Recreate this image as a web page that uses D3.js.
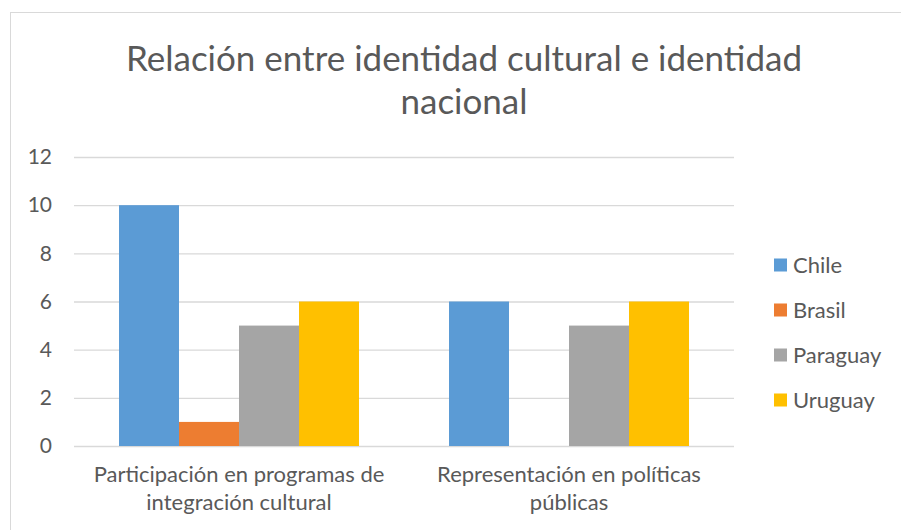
<!DOCTYPE html>
<html>
<head>
<meta charset="utf-8">
<script src="https://cdn.jsdelivr.net/npm/d3@7"></script>
<style>
  body { margin: 0; background: #fff; }
  text { font-family: Lato, "Open Sans", sans-serif; fill: #595959; }
</style>
</head>
<body>
<svg id="chart" width="901" height="530"></svg>
<script>
// data
const categories = ['Participación en programas de integración cultural', 'Representación en políticas públicas'];
const categoryLines = [['Participación en programas de', 'integración cultural'], ['Representación en políticas', 'públicas']];
const seriesNames = ['Chile', 'Brasil', 'Paraguay', 'Uruguay'];
const chile = [10, 6];
const brasil = [1, 0];
const paraguay = [5, 5];
const uruguay = [6, 6];
const yTicks = [0, 2, 4, 6, 8, 10, 12];
const titleLines = ['Relación entre identidad cultural e identidad', 'nacional'];

const colors = ['#5B9BD5', '#ED7D31', '#A5A5A5', '#FFC000'];
const seriesValues = [chile, brasil, paraguay, uruguay];

const svg = d3.select('#chart');
const margin = { top: 157, right: 167, bottom: 84, left: 74 };
const width = 901, height = 530;

// chart border
svg.append('rect')
    .attr('x', 10.5).attr('y', 12.5)
    .attr('width', 900).attr('height', 530)
    .attr('fill', 'none')
    .attr('stroke', '#d9d9d9');

// title
svg.append('g').selectAll('text')
    .data(titleLines)
    .join('text')
    .attr('x', 464)
    .attr('y', (d, i) => 71 + i * 43)
    .attr('text-anchor', 'middle')
    .style('font-size', '35px')
    .text(d => d);

const x0 = d3.scaleBand()
    .domain(categories)
    .range([margin.left, width - margin.right])
    .paddingInner(90 / 330)
    .paddingOuter(45 / 330);

const x1 = d3.scaleBand()
    .domain(seriesNames)
    .range([0, x0.bandwidth()]);

const y = d3.scaleLinear()
    .domain([0, 12])
    .range([height - margin.bottom, margin.top]);

// gridlines + y labels
const yAxis = d3.axisLeft(y)
    .tickValues(yTicks)
    .tickSize(-(width - margin.left - margin.right))
    .tickPadding(22);

svg.append('g')
    .attr('class', 'y-axis')
    .attr('transform', `translate(${margin.left},0)`)
    .call(yAxis)
    .call(g => g.select('.domain').remove())
    .call(g => g.selectAll('line').attr('stroke', '#d9d9d9').attr('stroke-width', 1.3))
    .call(g => g.selectAll('text').style('font-size', '21px').attr('fill', '#595959'));

// bars
const groups = svg.append('g')
    .selectAll('g')
    .data(categories)
    .join('g')
    .attr('transform', d => `translate(${x0(d)},0)`);

groups.selectAll('rect')
    .data((d, ci) => seriesNames.map((s, si) => ({ s, v: seriesValues[si][ci], c: colors[si] })))
    .join('rect')
    .attr('x', d => x1(d.s))
    .attr('width', x1.bandwidth())
    .attr('y', d => y(d.v))
    .attr('height', d => y(0) - y(d.v))
    .attr('fill', d => d.c);

// x category labels
const xLabels = svg.append('g').selectAll('text')
    .data(categories)
    .join('text')
    .attr('x', d => x0(d) + x0.bandwidth() / 2)
    .attr('y', height - margin.bottom + 36)
    .attr('text-anchor', 'middle')
    .style('font-size', '22px');

xLabels.selectAll('tspan')
    .data((d, i) => categoryLines[i])
    .join('tspan')
    .attr('x', function () { return this.parentNode.getAttribute('x'); })
    .attr('dy', (d, i) => i === 0 ? 0 : 28)
    .text(d => d);

// legend
const legend = svg.append('g')
    .selectAll('g')
    .data(seriesNames)
    .join('g')
    .attr('transform', (d, i) => `translate(774,${265 + i * 45})`);

legend.append('rect')
    .attr('x', 0).attr('y', -6.5)
    .attr('width', 13).attr('height', 13)
    .attr('fill', (d, i) => colors[i]);

legend.append('text')
    .attr('x', 19)
    .attr('dy', '0.35em')
    .style('font-size', '22px')
    .text(d => d);
</script>
</body>
</html>
